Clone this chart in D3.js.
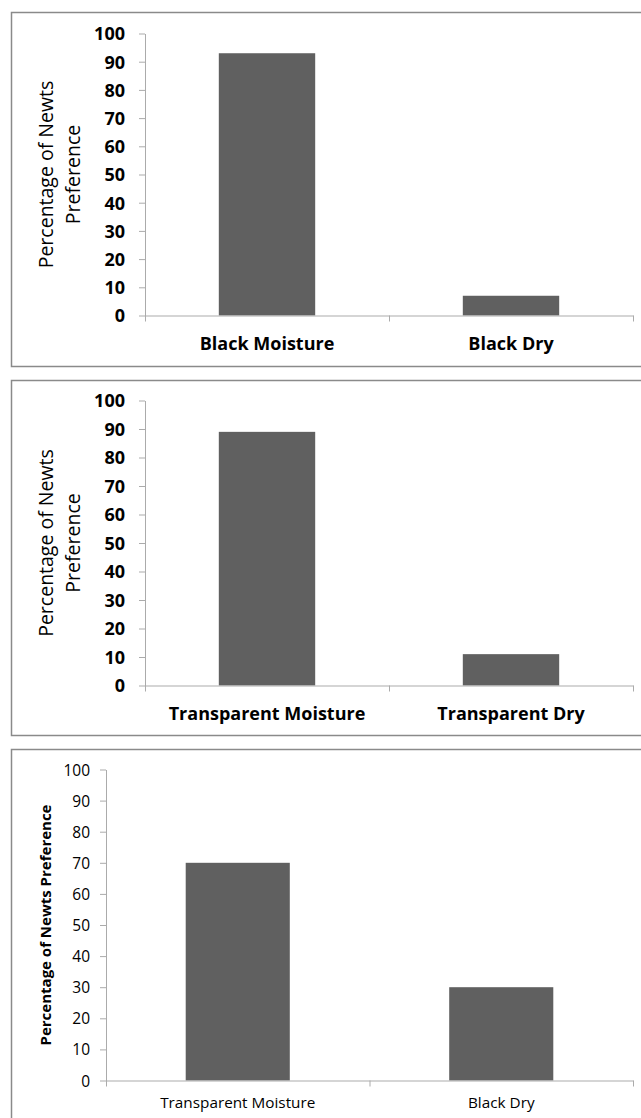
<!DOCTYPE html>
<html>
<head>
<meta charset="utf-8">
<script src="https://cdn.jsdelivr.net/npm/d3@7"></script>
<style>
  html, body { margin: 0; padding: 0; background: #ffffff; }
  svg { display: block; }
</style>
</head>
<body>
<svg id="chart" width="641" height="1118"></svg>
<script>
// ---- data ----
const panel1Categories = ["Black Moisture", "Black Dry"];
const panel1Values = [93, 7];
const panel2Categories = ["Transparent Moisture", "Transparent Dry"];
const panel2Values = [89, 11];
const panel3Categories = ["Transparent Moisture", "Black Dry"];
const panel3Values = [70, 30];
const yTickValues = [0, 10, 20, 30, 40, 50, 60, 70, 80, 90, 100];
const yTitleTwoLines = ["Percentage of Newts", "Preference"];
const yTitleOneLine = ["Percentage of Newts Preference"];

// ---- layout / style ----
const FONT = "'Open Sans', 'Liberation Sans', sans-serif";
const BAR_COLOR = "#606060";
const AXIS_COLOR = "#ababab";
const BORDER_COLOR = "#8a8a8a";

const panels = [
  { cats: panel1Categories, vals: panel1Values, title: yTitleTwoLines,
    box: { x: 11, y: 12, h: 354 },
    plot: { left: 145, right: 633, top: 33.5, bottom: 315.5 },
    tickFont: { size: 18, weight: 700 }, tickPad: 14,
    labelFont: { size: 18, weight: 700 }, labelDy: 34,
    titleFont: { size: 19.5, weight: 400 }, titleX: [46, 72.5] },
  { cats: panel2Categories, vals: panel2Values, title: yTitleTwoLines,
    box: { x: 11, y: 380, h: 355 },
    plot: { left: 145, right: 633, top: 400.5, bottom: 685.5 },
    tickFont: { size: 18, weight: 700 }, tickPad: 14,
    labelFont: { size: 18, weight: 700 }, labelDy: 34,
    titleFont: { size: 19.5, weight: 400 }, titleX: [46, 72.5] },
  { cats: panel3Categories, vals: panel3Values, title: yTitleOneLine,
    box: { x: 11, y: 749, h: 400 },
    plot: { left: 106, right: 633, top: 769.5, bottom: 1080.5 },
    tickFont: { size: 15.5, weight: 400 }, tickPad: 10,
    labelFont: { size: 15.3, weight: 400 }, labelDy: 27,
    titleFont: { size: 15, weight: 700 }, titleX: [46] }
];

const svg = d3.select("#chart");

panels.forEach(p => {
  const g = svg.append("g");

  // border
  g.append("rect")
    .attr("x", p.box.x + 0.5).attr("y", p.box.y + 0.5)
    .attr("width", 700).attr("height", p.box.h)
    .attr("fill", "#fff")
    .attr("stroke", BORDER_COLOR).attr("stroke-width", 1.5);

  const y = d3.scaleLinear().domain([0, 100]).range([p.plot.bottom, p.plot.top]);
  const x = d3.scaleBand().domain(p.cats)
    .range([p.plot.left, p.plot.right])
    .paddingInner(0.605).paddingOuter(0.3025);
  const xEdge = d3.scaleLinear().domain([0, p.cats.length])
    .range([p.plot.left, p.plot.right]);

  // bars
  g.selectAll("rect.bar").data(p.cats.map((c, i) => ({ c, v: p.vals[i] })))
    .join("rect").attr("class", "bar")
    .attr("x", d => x(d.c)).attr("width", x.bandwidth())
    .attr("y", d => y(d.v)).attr("height", d => y(0) - y(d.v))
    .attr("fill", BAR_COLOR);

  // y axis
  const yAxis = g.append("g")
    .attr("transform", `translate(${p.plot.left},0)`)
    .call(d3.axisLeft(y).tickValues(yTickValues).tickSize(6)
      .tickSizeOuter(0).tickPadding(p.tickPad));
  yAxis.select(".domain").attr("stroke", AXIS_COLOR);
  yAxis.selectAll(".tick line").attr("stroke", AXIS_COLOR);
  yAxis.selectAll(".tick text")
    .attr("fill", "#000").attr("font-family", FONT)
    .attr("font-size", p.tickFont.size).attr("font-weight", p.tickFont.weight)
    .attr("dy", "0.36em");

  // x axis (ticks at category boundaries)
  const xAxis = g.append("g")
    .attr("transform", `translate(0,${p.plot.bottom})`)
    .call(d3.axisBottom(xEdge).tickValues(d3.range(p.cats.length + 1))
      .tickSize(6).tickSizeOuter(0).tickFormat(""));
  xAxis.select(".domain").attr("stroke", AXIS_COLOR);
  xAxis.selectAll(".tick line").attr("stroke", AXIS_COLOR);

  // category labels
  const labelAxis = g.append("g")
    .attr("transform", `translate(0,${p.plot.bottom})`)
    .call(d3.axisBottom(x).tickSize(0).tickPadding(0));
  labelAxis.select(".domain").remove();
  labelAxis.selectAll(".tick text")
    .attr("fill", "#000").attr("font-family", FONT)
    .attr("font-size", p.labelFont.size).attr("font-weight", p.labelFont.weight)
    .attr("y", p.labelDy).attr("dy", 0);

  // y title
  const cy = (p.plot.top + p.plot.bottom) / 2;
  p.title.forEach((line, i) => {
    g.append("text")
      .attr("transform", `translate(${p.titleX[i]},${cy}) rotate(-90)`)
      .attr("text-anchor", "middle").attr("dy", "0.36em")
      .attr("font-family", FONT).attr("font-size", p.titleFont.size)
      .attr("font-weight", p.titleFont.weight).attr("fill", "#000")
      .text(line);
  });
});
</script>
</body>
</html>
